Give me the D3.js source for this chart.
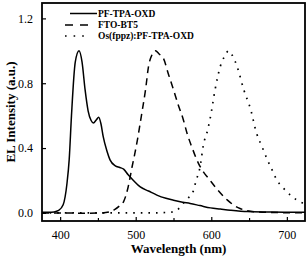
<!DOCTYPE html>
<html>
<head>
<meta charset="utf-8">
<script src="https://cdn.jsdelivr.net/npm/d3@7"></script>
<style>
  body { margin: 0; background: #fff; }
  svg text { font-family: "Liberation Serif", "DejaVu Serif", serif; }
</style>
</head>
<body>
<div id="wrapper"></div>
<script>
// spectra (wavelength in nm, normalised EL intensity)
const pfNm  = [376, 385, 392, 398, 404, 409, 412, 415, 420, 425, 429, 433, 437, 441, 444, 448, 451, 454, 457, 462, 466, 473, 479, 484, 490, 497, 506, 517, 528, 540, 550, 562, 572, 585, 599, 612, 625, 648, 680, 724];
const pfVal = [0.004, 0.004, 0.006, 0.015, 0.05, 0.18, 0.33, 0.6, 0.93, 1.0, 0.93, 0.76, 0.63, 0.57, 0.555, 0.575, 0.59, 0.55, 0.47, 0.38, 0.327, 0.29, 0.28, 0.27, 0.235, 0.2, 0.16, 0.135, 0.11, 0.09, 0.078, 0.066, 0.058, 0.045, 0.031, 0.024, 0.017, 0.008, 0.005, 0.004];

const ftoNm  = [376, 400, 430, 455, 465, 472, 479, 484, 490, 495, 499, 503, 506, 510, 513, 517, 521, 526, 531, 537, 543, 550, 556, 563, 568, 574, 583, 590, 596, 607, 621, 638, 660, 690, 724];
const ftoVal = [0.0, 0.0, -0.002, 0.0, 0.006, 0.02, 0.045, 0.07, 0.16, 0.28, 0.37, 0.47, 0.556, 0.67, 0.76, 0.905, 0.97, 1.0, 0.98, 0.95, 0.86, 0.76, 0.67, 0.575, 0.49, 0.41, 0.306, 0.25, 0.215, 0.15, 0.08, 0.027, 0.006, 0.002, 0.0];

const osNm  = [376, 450, 520, 550, 557, 563, 569, 575, 580, 585, 590, 594, 599, 605, 612, 618, 623, 628, 634, 643, 652, 660, 667, 674, 681, 687, 694, 700, 713, 724];
const osVal = [0.0, 0.0, 0.0, 0.006, 0.027, 0.06, 0.09, 0.12, 0.2, 0.28, 0.43, 0.49, 0.595, 0.76, 0.905, 0.97, 1.0, 0.97, 0.905, 0.76, 0.64, 0.49, 0.41, 0.33, 0.26, 0.2, 0.16, 0.13, 0.08, 0.055];

const seriesNames = ["PF-TPA-OXD", "FTO-BT5", "Os(fppz):PF-TPA-OXD"];
const xTicks = [400, 500, 600, 700];
const xMinorTicks = [450, 550, 650];
const yTicks = [0.0, 0.4, 0.8, 1.2];

const serif = "'Liberation Serif', 'DejaVu Serif', serif";

let wSvg = 307;
let hSvg = 258;
let plotL = 42, plotR = 305, plotT = 3, plotB = 221;

let svg = d3.select("#wrapper")
    .append("svg")
    .attr("width", wSvg)
    .attr("height", hSvg);

let xScale = d3.scaleLinear().domain([376, 724]).range([plotL, plotR]);
let yScale = d3.scaleLinear().domain([-0.05, 1.295]).range([plotB, plotT]);

let line = d3.line()
    .x(d => xScale(d[0]))
    .y(d => yScale(d[1]))
    .curve(d3.curveMonotoneX);

// the three curves
let series = [
    { name: seriesNames[0], pts: d3.zip(pfNm, pfVal), dash: null },
    { name: seriesNames[1], pts: d3.zip(ftoNm, ftoVal), dash: "7,5" },
    { name: seriesNames[2], pts: d3.zip(osNm, osVal), dash: "1.6,6" }
];

svg.append("clipPath").attr("id", "plotclip")
    .append("rect")
    .attr("x", plotL).attr("y", plotT)
    .attr("width", plotR - plotL).attr("height", plotB - plotT);

svg.append("g")
    .attr("clip-path", "url(#plotclip)")
    .selectAll("path")
    .data(series)
    .enter()
    .append("path")
    .attr("d", d => line(d.pts))
    .attr("fill", "none")
    .attr("stroke", "#000")
    .attr("stroke-width", d => d.dash === "1.6,6" ? 1.7 : 1.5)
    .attr("stroke-dasharray", d => d.dash);

// axes, ticks pointing inwards
svg.append("g")
    .attr("transform", `translate(0,${plotB})`)
    .call(d3.axisBottom(xScale).tickValues(xTicks).tickSizeInner(-4).tickSizeOuter(0).tickPadding(9));

svg.append("g")
    .attr("transform", `translate(0,${plotB})`)
    .call(d3.axisBottom(xScale).tickValues(xMinorTicks).tickSizeInner(-3).tickSizeOuter(0).tickFormat(""));

svg.append("g")
    .attr("transform", `translate(${plotL},0)`)
    .call(d3.axisLeft(yScale).tickValues(yTicks).tickSizeInner(-4).tickSizeOuter(0).tickPadding(9).tickFormat(d3.format(".1f")));

svg.selectAll(".domain").remove();
svg.selectAll(".tick line").attr("stroke", "#000").attr("stroke-width", 1.2);
svg.selectAll(".tick text")
    .style("font-family", serif)
    .style("font-size", "12px")
    .attr("fill", "#000");

// frame
svg.append("rect")
    .attr("x", plotL).attr("y", plotT)
    .attr("width", plotR - plotL).attr("height", plotB - plotT)
    .attr("fill", "none")
    .attr("stroke", "#000")
    .attr("stroke-width", 1.8);

// axis titles
svg.append("text")
    .attr("x", (plotL + plotR) / 2 + 5)
    .attr("y", 253)
    .attr("text-anchor", "middle")
    .style("font-family", serif)
    .style("font-size", "13px")
    .style("font-weight", "bold")
    .text("Wavelength (nm)");

svg.append("text")
    .attr("transform", `translate(15,${(plotT + plotB) / 2}) rotate(-90)`)
    .attr("text-anchor", "middle")
    .style("font-family", serif)
    .style("font-size", "13px")
    .style("font-weight", "bold")
    .text("EL Intensity (a.u.)");

// legend
let legendRows = [
    { x1: 70, x2: 97, y: 13.5 },
    { x1: 65, x2: 88, y: 25 },
    { x1: 65, x2: 84, y: 36 }
];
let legend = svg.append("g")
    .selectAll("g")
    .data(series)
    .enter()
    .append("g");

legend.append("line")
    .attr("x1", (d, i) => legendRows[i].x1)
    .attr("x2", (d, i) => legendRows[i].x2)
    .attr("y1", (d, i) => legendRows[i].y)
    .attr("y2", (d, i) => legendRows[i].y)
    .attr("stroke", "#000")
    .attr("stroke-width", (d, i) => i === 2 ? 1.7 : 1.5)
    .attr("stroke-dasharray", (d, i) => i === 1 ? "8,7" : (i === 2 ? "1.6,7" : null));

legend.append("text")
    .attr("x", 98)
    .attr("y", (d, i) => legendRows[i].y + 3.2)
    .style("font-family", serif)
    .style("font-size", "9.5px")
    .style("font-weight", "bold")
    .text(d => d.name);
</script>
</body>
</html>
